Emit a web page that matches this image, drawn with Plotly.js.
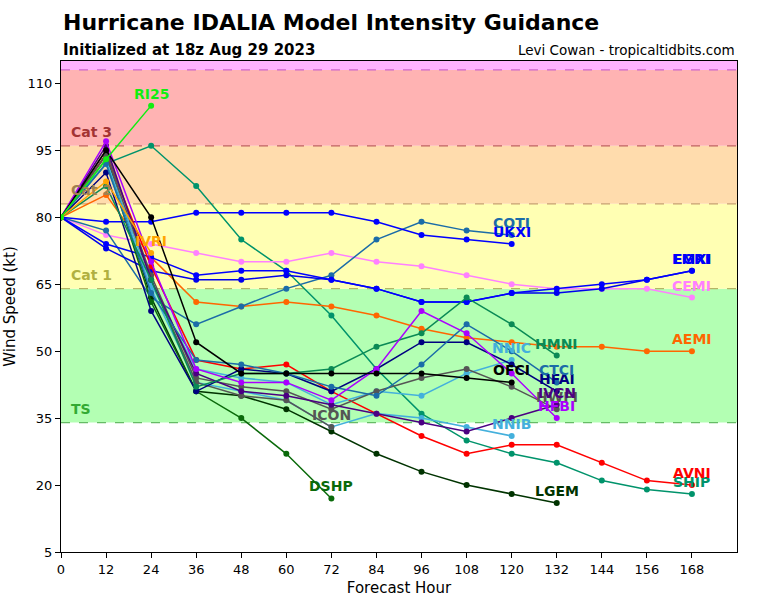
<!DOCTYPE html>
<html>
<head>
<meta charset="utf-8">
<script src="https://cdn.plot.ly/plotly-3.0.1.min.js"></script>
<style>html,body{margin:0;padding:0;background:#fff}#chart{width:768px;height:600px}</style>
</head>
<body>
<div id="chart"></div>
<script>
// Forecast hours
const hours = [0,12,24,36,48,60,72,84,96,108,120,132,144,156,168];

// Model intensity values (kt), starting at hour 0
const RI25 = [80, 93, 105];
const IVRI = [80, 88, 72];
const DSHP = [80, 93, 61, 41, 35, 27, 17];
const ICON = [80, 94, 66, 43, 40, 39, 33];
const COTI = [80, 77, 62, 56, 60, 64, 67, 75, 79, 77, 76];
const UKXI = [80, 79, 79, 81, 81, 81, 81, 79, 76, 75, 74];
const OFCI = [80, 95, 80, 52, 45, 45, 45, 45, 45, 44, 43];
const NNIC = [80, 93, 65, 46, 44, 43, 38, 41, 40, 45, 48];
const NNIB = [80, 92, 64, 43, 41, 39, 33, 36, 35, 33, 31];
const HMNI = [80, 87, 66, 42, 45, 45, 46, 51, 54, 62, 56, 49];
const CTCI = [80, 92, 63, 48, 47, 45, 42, 40, 47, 56, 50, 43];
const HFAI = [80, 90, 59, 41, 46, 45, 41, 46, 52, 52, 47, 41];
const HWFI = [80, 95, 67, 44, 42, 41, 37, 41, 44, 46, 42, 37];
const IVCN = [80, 96, 66, 45, 41, 40, 38, 36, 34, 32, 35, 38];
const HFBI = [80, 97, 70, 46, 43, 43, 39, 46, 59, 54, 45, 35];
const LGEM = [80, 94, 62, 41, 40, 37, 32, 27, 23, 20, 18, 16];
const AVNI = [80, 94, 69, 48, 46, 47, 41, 36, 31, 27, 29, 29, 25, 21, 20];
const SHIP = [80, 92, 96, 87, 75, 68, 58, 46, 36, 30, 27, 25, 21, 19, 18];
const AEMI = [80, 85, 71, 61, 60, 61, 60, 58, 55, 53, 52, 51, 51, 50, 50];
const CEMI = [80, 76, 74, 72, 70, 70, 72, 70, 69, 67, 65, 64, 64, 64, 62];
const EGRI = [80, 74, 71, 67, 68, 68, 66, 64, 61, 61, 63, 64, 65, 66, 68];
const EMXI = [80, 73, 68, 66, 66, 67, 66, 64, 61, 61, 63, 63, 64, 66, 68];

// Category bands
const bandNames = ["TS", "Cat 1", "Cat 2", "Cat 3", ""];
const bandLow  = [34, 64, 83, 96, 113];
const bandHigh = [64, 83, 96, 113, 115];

const models = [
  ["SHIP", SHIP, "#00936b"],
  ["AEMI", AEMI, "#ff6600"],
  ["CEMI", CEMI, "#ff80ff"],
  ["COTI", COTI, "#1b6ca8"],
  ["UKXI", UKXI, "#0000ff"],
  ["EMXI", EMXI, "#0000ee"],
  ["EGRI", EGRI, "#0000ff"],
  ["LGEM", LGEM, "#003300"],
  ["DSHP", DSHP, "#0a6a0a"],
  ["AVNI", AVNI, "#ff0000"],
  ["NNIB", NNIB, "#44b0dc"],
  ["NNIC", NNIC, "#44b0dc"],
  ["ICON", ICON, "#555555"],
  ["HWFI", HWFI, "#555555"],
  ["IVCN", IVCN, "#4b0082"],
  ["HFAI", HFAI, "#000080"],
  ["CTCI", CTCI, "#1b6ca8"],
  ["HMNI", HMNI, "#0a8a55"],
  ["HFBI", HFBI, "#aa00ff"],
  ["OFCI", OFCI, "#000000"],
  ["IVRI", IVRI, "#ffa500"],
  ["RI25", RI25, "#11ee11"]
];

const font = "DejaVu Sans, sans-serif";

const traces = models.map(([name, vals, color]) => ({
  type: "scatter",
  mode: "lines+markers",
  name: name,
  x: hours.slice(0, vals.length),
  y: vals,
  line: {color: color, width: 1.5},
  marker: {color: color, size: 6},
  showlegend: false,
  hoverinfo: "x+y+name"
}));

const annotations = models.map(([name, vals, color]) => ({
  x: hours[vals.length - 1],
  y: vals[vals.length - 1],
  xref: "x", yref: "y",
  text: "<b>" + name + "</b>",
  showarrow: false,
  xanchor: "center", yanchor: "middle",
  yshift: 12,
  font: {family: font, size: 14, color: color}
}));

const bandFill = ["#b3ffb3", "#ffffb3", "#ffdcad", "#ffb3b3", "#ffb3ff"];
const bandLine = ["#66bb66", "#b5b565", "#c8a070", "#c06060", "#cc66cc"];
const bandText = ["#33aa33", "#b0b040", "#a08050", "#a33333", ""];

const shapes = [];
for (let i = 0; i < bandLow.length; i++) {
  shapes.push({type: "rect", xref: "paper", yref: "y", x0: 0, x1: 1,
    y0: bandLow[i], y1: bandHigh[i], fillcolor: bandFill[i], line: {width: 0}, layer: "below"});
  shapes.push({type: "line", xref: "paper", yref: "y", x0: 0, x1: 1,
    y0: bandLow[i], y1: bandLow[i], line: {color: bandLine[i], width: 1.2, dash: "dash"}, layer: "below"});
  if (bandNames[i]) {
    annotations.push({x: 2, y: bandLow[i], xref: "x", yref: "y", text: "<b>" + bandNames[i] + "</b>",
      showarrow: false, xanchor: "left", yanchor: "bottom", yshift: 4,
      font: {family: font, size: 14, color: bandText[i]}});
  }
}

annotations.push({xref: "paper", yref: "paper", x: 0, y: 1, xanchor: "left", yanchor: "middle", yshift: 39,
  text: "<b>Hurricane IDALIA Model Intensity Guidance</b>", showarrow: false,
  font: {family: font, size: 22, color: "#000"}});
annotations.push({xref: "paper", yref: "paper", x: 0, y: 1, xanchor: "left", yanchor: "middle", yshift: 11,
  text: "<b>Initialized at 18z Aug 29 2023</b>", showarrow: false,
  font: {family: font, size: 15, color: "#000"}});
annotations.push({xref: "paper", yref: "paper", x: 1, y: 1, xanchor: "right", yanchor: "middle", yshift: 11,
  text: "Levi Cowan - tropicaltidbits.com", showarrow: false,
  font: {family: font, size: 13.5, color: "#000"}});

const layout = {
  width: 768, height: 600,
  margin: {l: 61, r: 31, t: 61, b: 48},
  paper_bgcolor: "#ffffff",
  plot_bgcolor: "#ffffff",
  font: {family: font, size: 13, color: "#000"},
  xaxis: {
    range: [0, 180], tickvals: [0,12,24,36,48,60,72,84,96,108,120,132,144,156,168],
    showgrid: false, zeroline: false, showline: true, mirror: true, linecolor: "#000", linewidth: 1,
    ticks: "outside", ticklen: 5, tickcolor: "#000",
    tickfont: {family: font, size: 13},
    title: {text: "Forecast Hour", font: {family: font, size: 15}, standoff: 6}
  },
  yaxis: {
    range: [5, 115], tickvals: [5,20,35,50,65,80,95,110],
    showgrid: false, zeroline: false, showline: true, mirror: true, linecolor: "#000", linewidth: 1,
    ticks: "outside", ticklen: 5, tickcolor: "#000",
    tickfont: {family: font, size: 13},
    title: {text: "Wind Speed (kt)", font: {family: font, size: 15}, standoff: 8}
  },
  shapes: shapes,
  annotations: annotations,
  showlegend: false
};

Plotly.newPlot("chart", traces, layout, {displayModeBar: false, staticPlot: true});
</script>
</body>
</html>
